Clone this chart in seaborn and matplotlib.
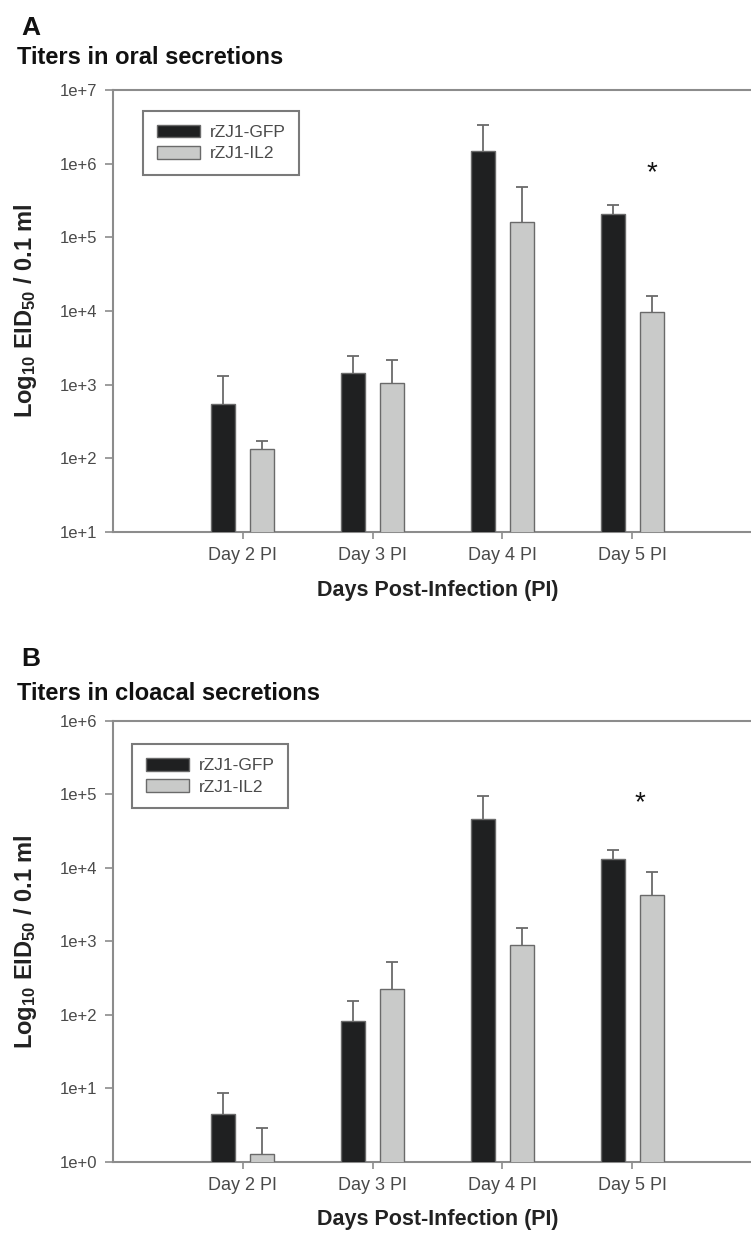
import matplotlib
matplotlib.use("Agg")
import matplotlib.pyplot as plt
from matplotlib.ticker import NullLocator, FixedLocator, FixedFormatter
import seaborn as sns
import pandas as pd
import numpy as np

# ---------------- data ----------------
days = ["Day 2 PI", "Day 3 PI", "Day 4 PI", "Day 5 PI"]
groups = ["rZJ1-GFP", "rZJ1-IL2"]

oral_gfp = [541, 1455, 1.50e6, 2.09e5]
oral_gfp_err = [760, 1020, 1.85e6, 6.8e4]
oral_il2 = [134, 1064, 1.61e5, 9.8e3]
oral_il2_err = [40, 1100, 3.2e5, 6.0e3]

cloacal_gfp = [4.46, 82.8, 4.55e4, 1.31e4]
cloacal_gfp_err = [4.24, 70, 4.85e4, 4.3e3]
cloacal_il2 = [1.27, 221, 887, 4.2e3]
cloacal_il2_err = [1.58, 294, 627, 4.5e3]

oral_yticks = [1e1, 1e2, 1e3, 1e4, 1e5, 1e6, 1e7]
oral_ylabels = ["1e+1", "1e+2", "1e+3", "1e+4", "1e+5", "1e+6", "1e+7"]
cloacal_yticks = [1e0, 1e1, 1e2, 1e3, 1e4, 1e5, 1e6]
cloacal_ylabels = ["1e+0", "1e+1", "1e+2", "1e+3", "1e+4", "1e+5", "1e+6"]

# asterisk annotations (day index offset, value)
oral_star = (3.15, 7.5e5)
cloacal_star = (3.06, 7.5e4)

colors = ["#1f2021", "#c9cac9"]

# ---------------- style ----------------
sns.set_theme(style="white")
plt.rcParams["font.family"] = ["Liberation Sans", "DejaVu Sans"]
plt.rcParams["mathtext.fontset"] = "custom"
plt.rcParams["mathtext.rm"] = "Liberation Sans:bold"
plt.rcParams["mathtext.it"] = "Liberation Sans:bold"
plt.rcParams["mathtext.bf"] = "Liberation Sans:bold"

W, H = 751, 1236
fig = plt.figure(figsize=(W / 100, H / 100), dpi=100)

spine_col = "#8c8c8c"
edge_col = "#6a6a6a"


def panel(rect, gfp, gfp_err, il2, il2_err, yticks, ylabels, star, legend_anchor):
    ax = fig.add_axes(rect)
    df = pd.DataFrame({
        "day": days * 2,
        "group": [groups[0]] * 4 + [groups[1]] * 4,
        "value": gfp + il2,
    })
    ax.set_yscale("log")
    sns.barplot(data=df, x="day", y="value", hue="group", order=days,
                hue_order=groups, palette=colors, width=0.6, gap=0.39,
                errorbar=None, edgecolor=edge_col, linewidth=1.0, ax=ax,
                zorder=3)
    errs = [gfp_err, il2_err]
    for cont, err in zip(ax.containers, errs):
        xs = [p.get_x() + p.get_width() / 2 for p in cont.patches]
        hs = [p.get_height() for p in cont.patches]
        _, caps, _ = ax.errorbar(xs, hs, yerr=[np.zeros(len(err)), err],
                                 fmt="none", ecolor=edge_col, elinewidth=1.3,
                                 capsize=4, capthick=1.3, zorder=2)
        caps[0].set_visible(False)

    ax.set_xlim(-1.0, 4.0)
    ax.set_ylim(yticks[0], yticks[-1])
    ax.yaxis.set_major_locator(FixedLocator(yticks))
    ax.yaxis.set_major_formatter(FixedFormatter(ylabels))
    ax.yaxis.set_minor_locator(NullLocator())

    for s in ["top", "left", "bottom", "right"]:
        ax.spines[s].set_color(spine_col)
        ax.spines[s].set_linewidth(1.5)
    ax.tick_params(axis="y", direction="out", length=6, width=1.2,
                   color=spine_col, pad=5, labelsize=12, labelcolor="#4a4a4a",
                   left=True)
    ax.tick_params(axis="x", direction="out", length=5, width=1.2,
                   color=spine_col, pad=6, labelsize=13, labelcolor="#4a4a4a",
                   bottom=True)

    ax.set_xlabel("Days Post-Infection (PI)", fontsize=15.5, fontweight="bold",
                  color="#222222", labelpad=11)
    ax.set_ylabel(r"Log$_{10}$ EID$_{50}$ / 0.1 ml", fontsize=17,
                  fontweight="bold", color="#222222", labelpad=15)

    ax.text(star[0], star[1], "*", fontsize=20, ha="center", va="center",
            color="#111111")

    handles, labels = ax.get_legend_handles_labels()
    leg = ax.legend(handles, labels, loc="upper left",
                    bbox_to_anchor=legend_anchor, borderaxespad=0,
                    frameon=True, fancybox=False, framealpha=1,
                    fontsize=12.5, handlelength=2.5, handleheight=0.75,
                    labelspacing=0.33, handletextpad=0.55, borderpad=0.8,
                    title=None)
    leg.get_frame().set_edgecolor("#7a7a7a")
    leg.get_frame().set_linewidth(1.5)
    for t in leg.get_texts():
        t.set_color("#4a4a4a")
    return ax


def rect_px(left, top, right, bottom):
    return [left / W, 1 - bottom / H, (right - left) / W, (bottom - top) / H]


panel(rect_px(113, 90, 762, 532), oral_gfp, oral_gfp_err, oral_il2, oral_il2_err,
      oral_yticks, oral_ylabels, oral_star, (0.046, 0.953))
panel(rect_px(113, 720.7, 762, 1161.7), cloacal_gfp, cloacal_gfp_err,
      cloacal_il2, cloacal_il2_err, cloacal_yticks, cloacal_ylabels,
      cloacal_star, (0.029, 0.947))

fig.text(21 / W, 1 - 35 / H, "A", fontsize=19, fontweight="bold", va="baseline",
         color="#111111")
fig.text(17 / W, 1 - 64 / H, "Titers in oral secretions", fontsize=17,
         fontweight="bold", va="baseline", color="#111111")
fig.text(21 / W, 1 - 666 / H, "B", fontsize=19, fontweight="bold", va="baseline",
         color="#111111")
fig.text(17 / W, 1 - 700 / H, "Titers in cloacal secretions", fontsize=17,
         fontweight="bold", va="baseline", color="#111111")

fig.savefig("out.png", dpi=100)
